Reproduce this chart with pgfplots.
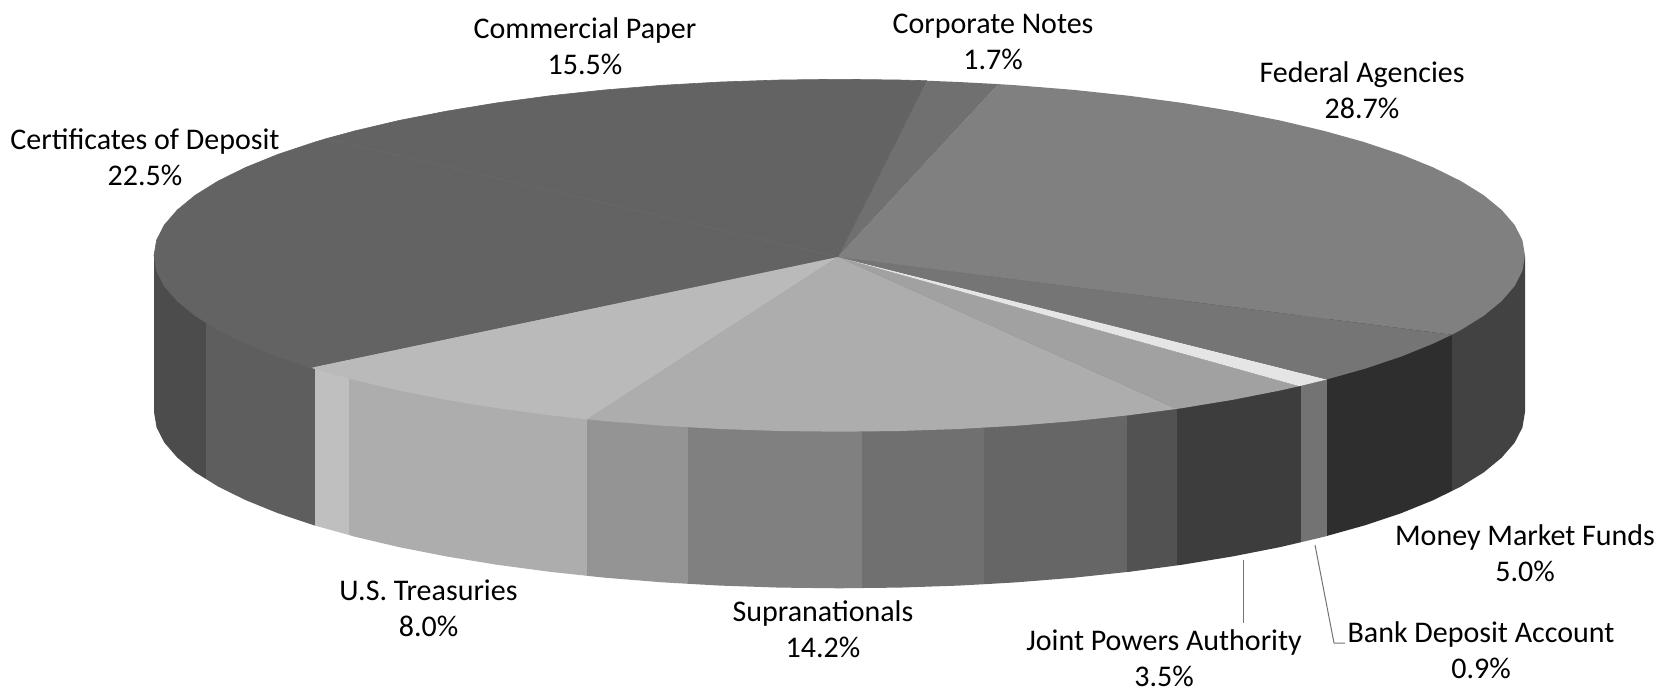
\documentclass[border=0pt]{standalone}
\usepackage{pgfplots}
\pgfplotsset{compat=1.18}
\usepackage{fontspec}
\setmainfont{Carlito}
% Two-line slice label centred on a point of the axis.
\newcommand{\lab}[3]{\node[align=center,font=\fontsize{30}{36}\selectfont,inner sep=0pt] at (axis cs:#1,#2) {#3};}
\begin{document}
\begin{tikzpicture}
\path[use as bounding box] (0,0) rectangle (1659pt,689pt);
\begin{axis}[
  scale only axis, width=1659pt, height=689pt,
  xmin=0, xmax=1659, ymin=0, ymax=689, y dir=reverse,
  hide axis, clip=false,
  every axis plot/.append style={draw=none, mark=none, line join=round},
]
% ---- wall of the pie, band by band along the lower rim ----
\addplot[fill=black!70] coordinates {(154,256)(154.0,412.1)(156.6,427.5)(164.4,442.7)(177.4,457.7)(195.3,472.4)(206,479.0)(206,256)};
\addplot[fill=black!63] coordinates {(206,256)(206,479.0)(218.2,486.6)(245.8,500.2)(277.9,513.2)(314.4,525.4)(315,525.6)(315,256)};
\addplot[fill=black!25] coordinates {(315,256)(315,525.6)(349,535.0)(349,256)};
\addplot[fill=black!32] coordinates {(349,256)(349,535.0)(354.8,536.7)(398.9,547.1)(446.3,556.4)(496.7,564.7)(549.8,571.8)(587,575.8)(587,256)};
\addplot[fill=black!42] coordinates {(587,256)(587,575.8)(605.1,577.7)(662.1,582.3)(688,583.8)(688,256)};
\addplot[fill=black!50] coordinates {(688,256)(688,583.8)(720.5,585.6)(779.7,587.6)(839.5,588.3)(862,588.0)(862,256)};
\addplot[fill=black!56] coordinates {(862,256)(862,588.0)(899.3,587.6)(958.5,585.6)(984,584.2)(984,256)};
\addplot[fill=black!60] coordinates {(984,256)(984,584.2)(1016.9,582.3)(1073.9,577.7)(1127,572.0)(1127,256)};
\addplot[fill=black!68] coordinates {(1127,256)(1127,572.0)(1129.2,571.8)(1177,565.4)(1177,256)};
\addplot[fill=black!76] coordinates {(1177,256)(1177,565.4)(1182.3,564.7)(1232.7,556.4)(1280.1,547.1)(1301,542.2)(1301,256)};
\addplot[fill=black!55] coordinates {(1301,256)(1301,542.2)(1324.2,536.7)(1327,535.9)(1327,256)};
\addplot[fill=black!82] coordinates {(1327,256)(1327,535.9)(1364.6,525.4)(1401.1,513.2)(1433.2,500.2)(1452,490.9)(1452,256)};
\addplot[fill=black!74] coordinates {(1452,256)(1452,490.9)(1460.8,486.6)(1483.7,472.4)(1501.6,457.7)(1514.6,442.7)(1522.4,427.5)(1525.0,412.1)(1525,256)};
% ---- top face, slice by slice ----
% Federal Agencies 28.7%
\addplot[fill=black!50] coordinates {(838,257)(1451.9,334.7)(1460.8,330.0)(1483.7,315.8)(1501.6,301.1)(1514.6,286.1)(1522.4,270.9)(1525.0,255.5)(1522.4,240.1)(1514.6,224.9)(1501.6,209.9)(1483.7,195.2)(1460.8,181.0)(1433.2,167.4)(1401.1,154.4)(1364.6,142.2)(1324.2,130.9)(1280.1,120.5)(1232.7,111.2)(1182.3,102.9)(1129.2,95.8)(1073.9,89.9)(1016.9,85.3)(998.3,84.1)};
% Corporate Notes 1.7%
\addplot[fill=black!56] coordinates {(838,257)(998.3,84.1)(958.5,82.0)(926.6,80.7)};
% Commercial Paper 15.5%
\addplot[fill=black!61, draw=black!61, line width=0.6pt] coordinates {(838,257)(926.6,80.7)(899.3,80.0)(839.5,79.3)(779.7,80.0)(720.5,82.0)(662.1,85.3)(605.1,89.9)(549.8,95.8)(496.7,102.9)(446.3,111.2)(398.9,120.5)(354.8,130.9)(326.1,138.7)};
% Certificates of Deposit 22.5%
\addplot[fill=black!61, draw=black!61, line width=0.6pt] coordinates {(838,257)(326.1,138.7)(314.4,142.2)(277.9,154.4)(245.8,167.4)(218.2,181.0)(195.3,195.2)(177.4,209.9)(164.4,224.9)(156.6,240.1)(154.0,255.5)(156.6,270.9)(164.4,286.1)(177.4,301.1)(195.3,315.8)(218.2,330.0)(245.8,343.6)(277.9,356.6)(311.3,367.8)};
% U.S. Treasuries 8.0%
\addplot[fill=black!27] coordinates {(838,257)(311.3,367.8)(314.4,368.8)(354.8,380.1)(398.9,390.5)(446.3,399.8)(496.7,408.1)(549.8,415.2)(587.2,419.3)};
% Supranationals 14.2%
\addplot[fill=black!32] coordinates {(838,257)(587.2,419.3)(605.1,421.1)(662.1,425.7)(720.5,429.0)(779.7,431.0)(839.5,431.7)(899.3,431.0)(958.5,429.0)(1016.9,425.7)(1073.9,421.1)(1129.2,415.2)(1177.0,408.9)};
% Joint Powers Authority 3.5%
\addplot[fill=black!37] coordinates {(838,257)(1177.0,408.9)(1182.3,408.1)(1232.7,399.8)(1280.1,390.5)(1299.1,386.2)};
% Bank Deposit Account 0.9%
\addplot[fill=black!10] coordinates {(838,257)(1299.1,386.2)(1324.2,380.1)(1326.8,379.4)};
% Money Market Funds 5.0%
\addplot[fill=black!54] coordinates {(838,257)(1326.8,379.4)(1364.6,368.8)(1401.1,356.6)(1433.2,343.6)(1451.9,334.7)};
% ---- leader lines ----
\addplot[draw=black!55, line width=1pt] coordinates {(1243,560)(1243,623)};
\addplot[draw=black!55, line width=1pt] coordinates {(1315,545)(1334,643)(1345,643)};
% ---- labels ----
\lab{585}{46}{Commercial Paper\\15.5\%}
\lab{993}{42}{Corporate Notes\\1.7\%}
\lab{1362}{90}{Federal Agencies\\28.7\%}
\lab{145}{157}{Certificates of Deposit\\22.5\%}
\lab{1525}{553}{Money Market Funds\\5.0\%}
\lab{1481}{650}{Bank Deposit Account\\0.9\%}
\lab{1164}{658}{Joint Powers Authority\\3.5\%}
\lab{823}{629}{Supranationals\\14.2\%}
\lab{428.5}{608}{U.S. Treasuries\\8.0\%}
\end{axis}
\end{tikzpicture}
\end{document}
